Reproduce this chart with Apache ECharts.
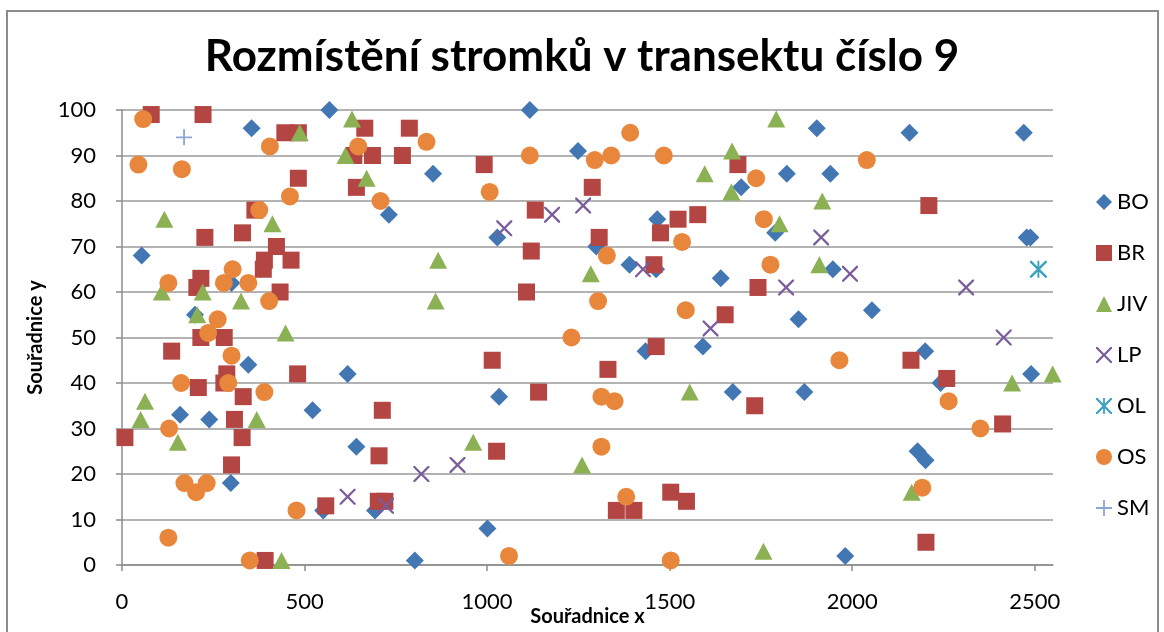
<!DOCTYPE html>
<html>
<head>
<meta charset="utf-8">
<script src="https://cdn.jsdelivr.net/npm/echarts@6/dist/echarts.min.js"></script>
<style>
  html, body { margin: 0; padding: 0; background: #fff; }
  #chart { width: 1164px; height: 632px; }
</style>
</head>
<body>
<div id="chart"></div>
<script>
// souradnice stromku v transektu (x, y)
var BO = [[568,100],[355,96],[54,68],[300,62],[200,55],[346,44],[618,42],[522,34],[159,33],[239,32],[642,26],[298,18],[551,12],[693,12],[802,1],[1001,8],[1033,37],[852,86],[731,77],[1117,100],[1249,91],[1028,72],[1299,70],[1903,96],[1821,86],[1940,86],[1696,83],[1466,76],[1789,73],[1390,66],[1463,65],[1947,65],[1640,63],[1853,54],[1434,47],[1591,48],[1673,38],[1869,38],[1981,2],[2157,95],[2470,95],[2478,72],[2488,72],[2054,56],[2200,47],[2242,40],[2490,42],[2179,25],[2201,23]]
var BR = [[80,99],[222,99],[446,95],[483,95],[665,96],[787,96],[635,90],[686,90],[768,90],[483,85],[642,83],[364,78],[330,73],[227,72],[423,70],[390,67],[463,67],[387,65],[216,63],[205,61],[433,60],[216,50],[280,50],[136,47],[287,42],[481,42],[209,39],[279,40],[332,37],[308,32],[8,28],[329,28],[300,22],[558,13],[392,1],[992,88],[1132,78],[1288,83],[1121,69],[1307,72],[1108,60],[1014,45],[1141,38],[713,34],[704,24],[1026,25],[702,14],[720,14],[1687,88],[1577,77],[1523,76],[1475,73],[1457,66],[1742,61],[1652,55],[1463,48],[1331,43],[1733,35],[1354,12],[1402,12],[1503,16],[1546,14],[2210,79],[2161,45],[2259,41],[2412,31],[2202,5]]
var JIV = [[630,98],[487,95],[612,90],[670,85],[116,76],[412,75],[109,60],[221,60],[326,58],[206,55],[448,51],[63,36],[51,32],[369,32],[153,27],[437,1],[866,67],[1284,64],[859,58],[962,27],[1260,22],[1792,98],[1671,91],[1596,86],[1669,82],[1918,80],[1801,75],[1910,66],[1555,38],[1757,3],[2438,40],[2549,42],[2163,16]]
var LP = [[618,15],[723,13],[820,20],[919,22],[1047,74],[1178,77],[1263,79],[1427,65],[1612,52],[1819,61],[1915,72],[1994,64],[2312,61],[2415,50]]
var OL = [[2510,65]]
var OS = [[58,98],[405,92],[647,92],[45,88],[164,87],[460,81],[376,78],[303,65],[127,62],[279,62],[346,62],[403,58],[262,54],[236,51],[300,46],[162,40],[291,40],[390,38],[129,30],[171,18],[232,18],[203,16],[478,12],[127,6],[350,1],[834,93],[708,80],[1007,82],[1117,90],[1295,89],[1304,58],[1231,50],[1060,2],[1392,95],[1340,90],[1484,90],[1737,85],[1758,76],[1534,71],[1328,68],[1776,66],[1544,56],[1965,45],[1313,37],[1349,36],[1313,26],[1381,15],[1503,1],[2040,89],[2264,36],[2351,30],[2192,17]]
var SM = [[170,94]]

var xTicks = [0, 500, 1000, 1500, 2000, 2500]

var FONT = 'Lato'
var crossPath = 'path://M0,0 L1.6,0 L8,6.4 L14.4,0 L16,0 L16,1.6 L9.6,8 L16,14.4 L16,16 L14.4,16 L8,9.6 L1.6,16 L0,16 L0,14.4 L6.4,8 L0,1.6 Z'
var plusPath = 'path://M7.1,0 L8.9,0 L8.9,7.1 L16,7.1 L16,8.9 L8.9,8.9 L8.9,16 L7.1,16 L7.1,8.9 L0,8.9 L0,7.1 L7.1,7.1 Z'
var starPath = 'path://M0,0 L1.6,0 L8,6.4 L14.4,0 L16,0 L16,1.6 L9.6,8 L16,14.4 L16,16 L14.4,16 L8,9.6 L1.6,16 L0,16 L0,14.4 L6.4,8 L0,1.6 Z M7.1,0 L8.9,0 L8.9,16 L7.1,16 Z'

function serie (name, data, symbol, size, color) {
  return {
    name: name,
    type: 'scatter',
    data: data,
    symbol: symbol,
    symbolSize: size,
    itemStyle: { color: color, opacity: 1 },
    emphasis: { disabled: true }
  }
}

var chart = echarts.init(document.getElementById('chart'))
var options = {
  animation: false,
  title: {
    text: 'Rozmístění stromků v transektu číslo 9',
    left: 'center',
    top: 30,
    textStyle: { fontFamily: FONT, fontSize: 44, fontWeight: 'bold', color: '#000' }
  },
  legend: {
    orient: 'vertical',
    left: 1091,
    top: 186,
    itemWidth: 16,
    itemHeight: 16,
    itemGap: 29,
    textStyle: { fontFamily: FONT, fontSize: 22, color: '#000', lineHeight: 22 }
  },
  grid: {
    left: 122,
    top: 110,
    width: 931,
    height: 455,
    outerBoundsMode: 'none'
  },
  xAxis: {
    type: 'value',
    min: 0,
    max: 2550,
    name: 'Souřadnice x',
    nameLocation: 'middle',
    nameGap: 42,
    nameMoveOverlap: false,
    nameTextStyle: { fontFamily: FONT, fontSize: 20, fontWeight: 'bold', color: '#000' },
    axisLine: { show: true, lineStyle: { color: '#8c8c8c', width: 1.5 } },
    axisTick: { show: true, length: 6, customValues: xTicks, lineStyle: { color: '#8c8c8c', width: 1.5 } },
    axisLabel: {
      customValues: xTicks,
      margin: 26,
      fontFamily: FONT,
      fontSize: 22,
      color: '#000',
      formatter: function (v) { return String(v) }
    },
    splitLine: { show: false }
  },
  yAxis: {
    type: 'value',
    min: 0,
    max: 100,
    interval: 10,
    name: 'Souřadnice y',
    nameLocation: 'middle',
    nameGap: 76,
    nameMoveOverlap: false,
    nameTextStyle: { fontFamily: FONT, fontSize: 20, fontWeight: 'bold', color: '#000' },
    axisLine: { show: true, lineStyle: { color: '#8c8c8c', width: 1.5 } },
    axisTick: { show: true, length: 6, lineStyle: { color: '#8c8c8c', width: 1.5 } },
    axisLabel: { margin: 26, fontFamily: FONT, fontSize: 22, color: '#000' },
    splitLine: { show: true, lineStyle: { color: '#9a9a9a', width: 1.5 } }
  },
  graphic: [{
    type: 'rect',
    shape: { x: 7, y: 11, width: 1151, height: 660 },
    style: { fill: 'none', stroke: '#8c8c8c', lineWidth: 2 },
    silent: true
  }],
  series: [
    serie('BO', BO, 'diamond', 18, '#4377b4'),
    serie('BR', BR, 'rect', 17, '#b34542'),
    serie('JIV', JIV, 'triangle', [18, 17], '#8cb154'),
    serie('LP', LP, crossPath, 16, '#7a5c9b'),
    serie('OL', OL, starPath, 17, '#3ba3be'),
    serie('OS', OS, 'circle', 18, '#e8873b'),
    serie('SM', SM, plusPath, 16, '#8aa5d6')
  ]
}
chart.setOption(options)
</script>
</body>
</html>
